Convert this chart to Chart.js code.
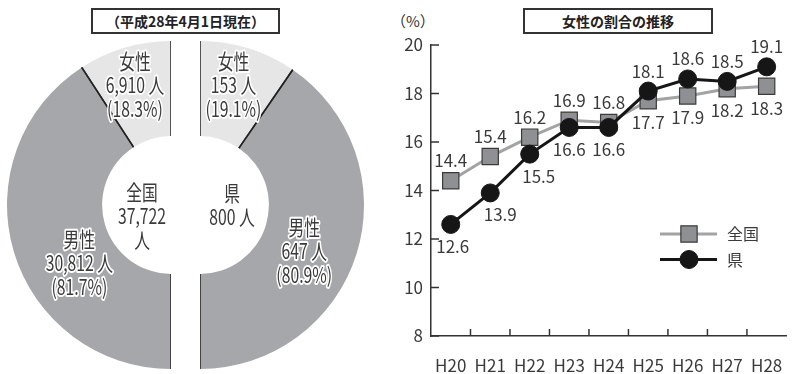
<!DOCTYPE html>
<html lang="ja">
<head>
<meta charset="utf-8">
<title>女性の割合</title>
<script src="https://cdn.jsdelivr.net/npm/chart.js@4.4.1/dist/chart.umd.min.js"></script>
<style>
  html, body { margin: 0; padding: 0; background: #fff; }
  body { position: relative; width: 797px; height: 374px; overflow: hidden;
         font-family: "Noto Sans CJK JP", "Noto Sans", sans-serif; color: #333; }
  .frame { position: absolute; box-sizing: border-box; height: 26px; border: 2px solid #333;
           font-size: 14px; font-weight: bold; line-height: 22px; text-align: center; color: #222; }
  #frame-left { left: 91px; top: 8px; width: 189px; }
  #frame-right { left: 523px; top: 8px; width: 190px; }
  #unit { position: absolute; left: 391px; top: 10px; font-size: 15px; color: #333; }
  canvas { position: absolute; }
  #pie-zenkoku { left: 7px; top: 41px; }
  #pie-ken { left: 200px; top: 41px; }
  #trend { left: 370px; top: 0; }
</style>
</head>
<body>
<div class="frame" id="frame-left">（平成28年4月1日現在）</div>
<div class="frame" id="frame-right">女性の割合の推移</div>
<div id="unit">（%）</div>
<canvas id="pie-zenkoku" width="164" height="328"></canvas>
<canvas id="pie-ken" width="164" height="328"></canvas>
<canvas id="trend" width="432" height="374"></canvas>
<script>
const FONT = '"Noto Sans CJK JP", "Noto Sans", sans-serif';
Chart.defaults.font.family = FONT;
Chart.defaults.color = '#3a3a3a';

// 人数（平成28年4月1日現在）
const regions = ['全国', '県'];
const genders = ['男性', '女性'];
const zenkokuStaff = [30812, 6910];
const kenStaff = [647, 153];

// 女性の割合の推移（%）
const years = ['H20', 'H21', 'H22', 'H23', 'H24', 'H25', 'H26', 'H27', 'H28'];
const zenkokuRate = [14.4, 15.4, 16.2, 16.9, 16.8, 17.7, 17.9, 18.2, 18.3];
const kenRate = [12.6, 13.9, 15.5, 16.6, 16.6, 18.1, 18.6, 18.5, 19.1];
const rateTicks = [8, 10, 12, 14, 16, 18, 20];

const MALE_GRAY = '#a6a7aa';
const FEMALE_GRAY = '#e6e6e6';
const INK = '#3a3a3a';

function withComma(n) {
  return String(n).replace(/\B(?=(\d{3})+(?!\d))/g, ',');
}

// narrow lettering inside the pies
function condensedText(ctx, text, x, y, halo) {
  ctx.save();
  ctx.translate(x, y);
  ctx.scale(0.75, 1);
  if (halo) {
    ctx.strokeStyle = '#fff';
    ctx.lineWidth = 4;
    ctx.lineJoin = 'round';
    ctx.strokeText(text, 0, 0);
  }
  ctx.fillText(text, 0, 0);
  ctx.restore();
}

function textBlock(ctx, lines, x, y, halo) {
  const lh = 24;
  const top = y - (lines.length - 1) * lh / 2;
  lines.forEach((t, i) => condensedText(ctx, t, x, top + i * lh, halo));
}

// radial edges + labels for the half pies
const halfPiePlugin = {
  id: 'halfPie',
  afterDatasetsDraw(chart, args, opts) {
    const ctx = chart.ctx;
    const arcs = chart.getDatasetMeta(0).data;
    const values = chart.data.datasets[0].data;
    const total = values.reduce((a, b) => a + b, 0);
    ctx.save();
    ctx.strokeStyle = '#222';
    ctx.lineWidth = 1.5;
    arcs.forEach(a => {
      [a.startAngle, a.endAngle].forEach(ang => {
        ctx.beginPath();
        ctx.moveTo(a.x + Math.cos(ang) * a.innerRadius, a.y + Math.sin(ang) * a.innerRadius);
        ctx.lineTo(a.x + Math.cos(ang) * a.outerRadius, a.y + Math.sin(ang) * a.outerRadius);
        ctx.stroke();
      });
    });
    ctx.font = '21px ' + FONT;
    ctx.fillStyle = INK;
    ctx.textAlign = 'center';
    ctx.textBaseline = 'middle';
    arcs.forEach((a, i) => {
      const p = a.tooltipPosition();
      const [dx, dy] = opts.shift[i];
      const pct = (values[i] / total * 100).toFixed(1);
      textBlock(ctx, [chart.data.labels[i], withComma(values[i]) + ' 人', '(' + pct + '%)'],
        p.x + dx, p.y + dy, true);
    });
    const c = arcs[0];
    textBlock(ctx, opts.center(total), c.x + opts.centerAt[0], c.y + opts.centerAt[1], false);
    ctx.restore();
  }
};

function halfPie(id, labels, values, colors, rotation, halfOpts) {
  return new Chart(document.getElementById(id), {
    type: 'doughnut',
    data: {
      labels: labels,
      datasets: [{
        data: values,
        backgroundColor: colors,
        borderWidth: 0,
        hoverOffset: 0
      }]
    },
    options: {
      responsive: false,
      animation: false,
      events: [],
      rotation: rotation,
      circumference: 180,
      cutout: '42%',
      layout: { padding: 0 },
      plugins: { legend: { display: false }, tooltip: { enabled: false }, halfPie: halfOpts }
    },
    plugins: [halfPiePlugin]
  });
}

halfPie('pie-zenkoku', genders, zenkokuStaff, [MALE_GRAY, FEMALE_GRAY], 180, {
  shift: [[20, 25], [-3, -8]],
  centerAt: [-29, 11],
  center: total => [regions[0], withComma(total), '人']
});

halfPie('pie-ken', [genders[1], genders[0]], [kenStaff[1], kenStaff[0]], [FEMALE_GRAY, MALE_GRAY], 0, {
  shift: [[-1, -9], [-7, 12]],
  centerAt: [32, 0],
  center: total => [regions[1], withComma(total) + ' 人']
});

// value labels: side -1 above, 1 below
const valueLabels = {
  id: 'valueLabels',
  afterDatasetsDraw(chart) {
    const ctx = chart.ctx;
    ctx.save();
    ctx.font = '17px ' + FONT;
    ctx.fillStyle = INK;
    ctx.textAlign = 'center';
    ctx.textBaseline = 'middle';
    chart.data.datasets.forEach((ds, di) => {
      const meta = chart.getDatasetMeta(di);
      meta.data.forEach((pt, i) => {
        const side = ds.labelSide[i];
        const dx = ds.labelDx ? ds.labelDx[i] : 0;
        const y = pt.y + (side < 0 ? -20 : 22);
        ctx.fillText(ds.data[i].toFixed(1), pt.x + dx, y);
      });
    });
    ctx.restore();
  }
};

// tick marks pointing into the plot
const innerTicks = {
  id: 'innerTicks',
  beforeDatasetsDraw(chart) {
    const { ctx, scales: { x, y } } = chart;
    ctx.save();
    ctx.strokeStyle = '#333';
    ctx.lineWidth = 1.5;
    const seg = (x1, y1, x2, y2) => { ctx.beginPath(); ctx.moveTo(x1, y1); ctx.lineTo(x2, y2); ctx.stroke(); };
    y.ticks.forEach((t, i) => {
      const py = y.getPixelForTick(i);
      seg(x.left, py, x.left + 8, py);
    });
    for (let i = 1; i < x.ticks.length; i++) {
      const px = (x.getPixelForTick(i - 1) + x.getPixelForTick(i)) / 2;
      seg(px, y.bottom, px, y.bottom - 7);
    }
    ctx.restore();
  }
};

function drawMarker(ctx, ds, x, y) {
  ctx.fillStyle = ds.pointBackgroundColor;
  ctx.strokeStyle = ds.pointBorderColor;
  ctx.lineWidth = ds.pointBorderWidth;
  ctx.beginPath();
  if (ds.pointStyle === 'rect') {
    const s = ds.pointRadius * Math.SQRT1_2;
    ctx.rect(x - s, y - s, 2 * s, 2 * s);
  } else {
    ctx.arc(x, y, ds.pointRadius, 0, Math.PI * 2);
  }
  ctx.fill();
  ctx.stroke();
}

const rateLegend = {
  id: 'rateLegend',
  afterDraw(chart) {
    const ctx = chart.ctx;
    ctx.save();
    ctx.font = '16px ' + FONT;
    ctx.textAlign = 'left';
    ctx.textBaseline = 'middle';
    chart.data.datasets.forEach((ds, i) => {
      const y = 234 + i * 25.5;
      ctx.strokeStyle = ds.borderColor;
      ctx.lineWidth = ds.borderWidth;
      ctx.beginPath();
      ctx.moveTo(290, y);
      ctx.lineTo(347, y);
      ctx.stroke();
      drawMarker(ctx, ds, 319, y);
      ctx.fillStyle = INK;
      ctx.fillText(ds.label, 357, y);
    });
    ctx.restore();
  }
};

new Chart(document.getElementById('trend'), {
  type: 'line',
  data: {
    labels: years,
    datasets: [
      {
        label: regions[0],
        data: zenkokuRate,
        borderColor: '#a3a3a3',
        borderWidth: 3,
        pointStyle: 'rect',
        pointRadius: 11.5,
        pointBackgroundColor: '#8f9093',
        pointBorderColor: '#3a3a3a',
        pointBorderWidth: 1.2,
        tension: 0,
        clip: false,
        order: 2,
        labelSide: [-1, -1, -1, -1, -1, 1, 1, 1, 1]
      },
      {
        label: regions[1],
        data: kenRate,
        borderColor: '#161616',
        borderWidth: 3,
        pointStyle: 'circle',
        pointRadius: 9,
        pointBackgroundColor: '#161616',
        pointBorderColor: '#161616',
        pointBorderWidth: 1,
        tension: 0,
        clip: false,
        order: 1,
        labelSide: [1, 1, 1, 1, 1, -1, -1, -1, -1],
        labelDx: [2, 10, 9, 0, 0, 0, 0, 0, 0]
      }
    ]
  },
  options: {
    responsive: false,
    animation: false,
    events: [],
    layout: { padding: { top: 45, right: 3, left: 0, bottom: 0 } },
    plugins: { legend: { display: false }, tooltip: { enabled: false } },
    scales: {
      x: {
        offset: true,
        grid: { display: false, drawTicks: false },
        border: { color: '#333', width: 1.5 },
        ticks: { padding: 19, font: { size: 17 }, color: INK, maxRotation: 0, autoSkip: false },
        afterFit: s => { s.height = 38; }
      },
      y: {
        min: 8,
        max: 20,
        grid: { display: false, drawTicks: false },
        border: { color: '#333', width: 1.5 },
        ticks: { padding: 8, font: { size: 17 }, color: INK },
        afterBuildTicks: s => { s.ticks = rateTicks.map(v => ({ value: v })); },
        afterFit: s => { s.width = 61; }
      }
    }
  },
  plugins: [innerTicks, valueLabels, rateLegend]
});
</script>
</body>
</html>
